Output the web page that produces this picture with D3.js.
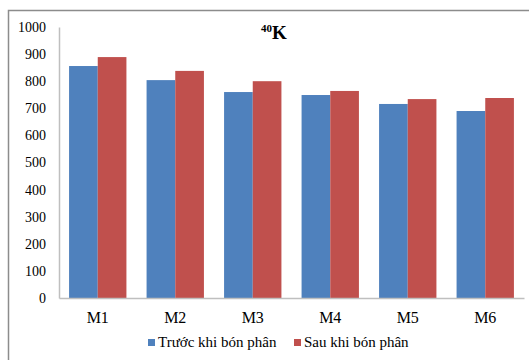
<!DOCTYPE html>
<html>
<head>
<meta charset="utf-8">
<script src="https://cdn.jsdelivr.net/npm/d3@7"></script>
<style>
    body { margin: 0; background: #fff; }
</style>
</head>
<body>
<div id="chart"></div>
<script>
// categories and series
var categories = ["M1", "M2", "M3", "M4", "M5", "M6"];
var seriesNames = ["Trước khi bón phân", "Sau khi bón phân"];
var beforeValues = [856, 804, 760, 749, 716, 690];
var afterValues = [889, 838, 800, 764, 734, 738];
var yTicks = [0, 100, 200, 300, 400, 500, 600, 700, 800, 900, 1000];
var colors = ["#4F81BD", "#C0504D"];

var serif = "'Liberation Serif', 'Times New Roman', 'DejaVu Serif', serif";

var width = 529, height = 360;
var margin = { top: 27, right: 5, bottom: 62, left: 59 };
var innerW = width - margin.left - margin.right;
var innerH = height - margin.top - margin.bottom;

var svg = d3.select("#chart").append("svg")
    .attr("width", width)
    .attr("height", height)
    .style("font-family", serif);

// chart frame (top + left edges visible)
svg.append("path")
    .attr("d", "M8.5," + height + "V10.5H" + width)
    .attr("fill", "none")
    .attr("stroke", "#8c8c8c")
    .attr("stroke-width", 1.5);

var g = svg.append("g")
    .attr("transform", "translate(" + margin.left + "," + margin.top + ")");

// Scales
var x = d3.scaleBand()
    .domain(categories)
    .range([0, innerW])
    .paddingInner(0.26)
    .paddingOuter(0.13);

var xSub = d3.scaleBand()
    .domain([0, 1])
    .range([0, x.bandwidth()]);

var y = d3.scaleLinear()
    .domain([0, 1000])
    .range([innerH, 0]);

// bars
var data = categories.map(function(c, i) {
    return { cat: c, values: [beforeValues[i], afterValues[i]] };
});

var groups = g.selectAll(".cat")
    .data(data)
    .enter().append("g")
    .attr("class", "cat")
    .attr("transform", function(d) { return "translate(" + x(d.cat) + ",0)"; });

groups.selectAll("rect")
    .data(function(d) { return d.values; })
    .enter().append("rect")
    .attr("x", function(d, i) { return xSub(i); })
    .attr("y", function(d) { return y(d); })
    .attr("width", xSub.bandwidth())
    .attr("height", function(d) { return innerH - y(d); })
    .attr("fill", function(d, i) { return colors[i]; });

// y axis
var yAxis = d3.axisLeft(y)
    .tickValues(yTicks)
    .tickFormat(d3.format("d"))
    .tickSize(0)
    .tickPadding(13);

var yg = g.append("g").attr("class", "y-axis").call(yAxis);
yg.attr("font-family", serif);
yg.select(".domain").attr("stroke", "#bfbfbf").attr("stroke-width", 1.5);
yg.selectAll("text").style("font-size", "14px").attr("fill", "#000");

// x axis
var xAxis = d3.axisBottom(x).tickSize(0).tickPadding(14);
var xg = g.append("g")
    .attr("class", "x-axis")
    .attr("transform", "translate(0," + innerH + ")")
    .call(xAxis);
xg.attr("font-family", serif);
xg.select(".domain").attr("stroke", "#bfbfbf").attr("stroke-width", 1.5);
xg.selectAll("text").style("font-size", "16px").attr("fill", "#000");

// title
var title = svg.append("text")
    .attr("x", 274)
    .attr("y", 39)
    .attr("text-anchor", "middle")
    .style("font-weight", "bold");
title.append("tspan")
    .attr("dy", "-7")
    .style("font-size", "11px")
    .text("40");
title.append("tspan")
    .attr("dy", "7")
    .style("font-size", "19px")
    .text("K");

// legend
var legendX = [148, 294];
var legend = svg.selectAll(".legend")
    .data(seriesNames)
    .enter().append("g")
    .attr("class", "legend")
    .attr("transform", function(d, i) { return "translate(" + legendX[i] + ",340)"; });

legend.append("rect")
    .attr("width", 7)
    .attr("height", 7)
    .attr("y", -1)
    .attr("fill", function(d, i) { return colors[i]; });

legend.append("text")
    .attr("x", 10)
    .attr("y", 7)
    .style("font-size", "15px")
    .text(function(d) { return d; });
</script>
</body>
</html>
